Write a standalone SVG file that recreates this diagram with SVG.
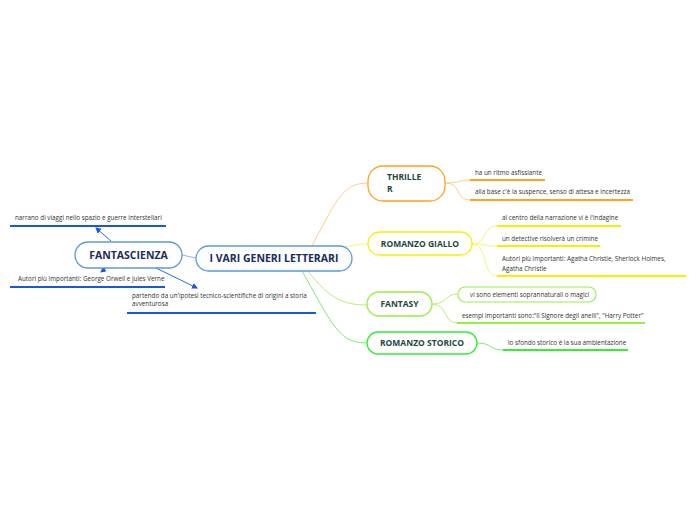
<svg xmlns="http://www.w3.org/2000/svg" width="696" height="520" viewBox="0 0 696 520">
<defs>
<marker id="ah" markerWidth="6" markerHeight="6" refX="5" refY="3" orient="auto" markerUnits="userSpaceOnUse"><path d="M0,0 L6,3 L0,6 Z" fill="#1a56e0"/></marker>
<style>
.t{font-family:"Open Sans","Liberation Sans",sans-serif;font-size:6.3px;fill:#333}
.n{font-family:"Open Sans","Liberation Sans",sans-serif;font-weight:bold;font-size:8.5px;fill:#1d4a3c}
.b{font-family:"Open Sans","Liberation Sans",sans-serif;font-weight:bold;font-size:10.5px;fill:#1b2d55}
.c{fill:none;stroke-width:1}
.ul{stroke-width:1.8}
</style>
</defs>
<rect width="696" height="520" fill="#ffffff"/>
<g id="connectors">
<line x1="182" y1="255" x2="196" y2="258" stroke="#8fb4e3" stroke-width="1"/>
<path class="c" d="M310,249 C335,205 340,183 368,183" stroke="#ffcc88"/>
<path class="c" d="M345,247 C355,245 360,244 368,244" stroke="#f5f57a"/>
<path class="c" d="M308,271 C330,300 345,305 368,305" stroke="#bbee77"/>
<path class="c" d="M302,271 C335,330 340,343 368,343" stroke="#77ee77"/>
<path class="c" d="M445,183 C460,183 458,180 470,180" stroke="#ffcc88"/>
<path class="c" d="M445,183 C462,183 455,200 470,200" stroke="#ffcc88"/>
<path class="c" d="M472,244 C488,244 482,226 497,226" stroke="#f5f57a"/>
<path class="c" d="M472,244 C488,244 482,246 497,246" stroke="#f5f57a"/>
<path class="c" d="M472,244 C488,244 482,276 497,276" stroke="#f5f57a"/>
<path class="c" d="M432,304 C448,304 444,294 458,294" stroke="#bbee77"/>
<path class="c" d="M432,304 C448,304 443,323 457,323" stroke="#bbee77"/>
<path class="c" d="M477,343 C492,343 490,350 503,350" stroke="#77ee77"/>
<line x1="111" y1="241" x2="96" y2="228" stroke="#1a56e0" stroke-width="0.9" marker-end="url(#ah)"/>
<line x1="106" y1="268" x2="101" y2="272" stroke="#1a56e0" stroke-width="0.9" marker-end="url(#ah)"/>
<line x1="156" y1="268" x2="197" y2="288" stroke="#1a56e0" stroke-width="0.9" marker-end="url(#ah)"/>
</g>
<g id="central">
<rect x="196" y="246" width="156" height="25" rx="12.5" fill="#fbfdff" stroke="#5b9bd5" stroke-width="1.3"/>
<text class="b" x="274" y="262" text-anchor="middle">I VARI GENERI LETTERARI</text>
</g>
<g id="fantascienza">
<rect x="75" y="242" width="107" height="26" rx="13" fill="#ffffff" stroke="#5b9bd5" stroke-width="1.3"/>
<text class="b" x="128.5" y="258.5" text-anchor="middle">FANTASCIENZA</text>
</g>
<g id="fs1">
<text class="t" x="15" y="220">narrano di viaggi nello spazio e guerre interstellari</text>
<line class="ul" x1="10" y1="226" x2="166" y2="226" stroke="#1a56e0"/>
</g>
<g id="fs2">
<text class="t" x="18" y="281">Autori più importanti: George Orwell e Jules Verne</text>
<line class="ul" x1="10" y1="287" x2="165" y2="287" stroke="#1a56e0"/>
</g>
<g id="fs3">
<text class="t" x="132" y="298">partendo da un'ipotesi tecnico-scientifiche di origini a storia</text>
<text class="t" x="132" y="306">avventurosa</text>
<line class="ul" x1="127" y1="313" x2="316" y2="313" stroke="#1a56e0"/>
</g>
<g id="thriller">
<rect x="368" y="166" width="77" height="35" rx="15" fill="#ffffff" stroke="#ffa31a" stroke-width="1.3"/>
<text class="n" x="387" y="180">THRILLE</text>
<text class="n" x="387" y="192">R</text>
</g>
<g id="th1">
<text class="t" x="475" y="175">ha un ritmo asfissiante</text>
<line class="ul" x1="470" y1="180" x2="545" y2="180" stroke="#ffa31a"/>
</g>
<g id="th2">
<text class="t" x="475" y="194">alla base c'è la suspence, senso di attesa e incertezza</text>
<line class="ul" x1="470" y1="200" x2="633" y2="200" stroke="#ffa31a"/>
</g>
<g id="giallo">
<rect x="368" y="232" width="104" height="23" rx="11.5" fill="#ffffff" stroke="#f2f200" stroke-width="1.3"/>
<text class="n" x="420" y="247" text-anchor="middle">ROMANZO GIALLO</text>
</g>
<g id="gi1">
<text class="t" x="502" y="220">al centro della narrazione vi è l'indagine</text>
<line class="ul" x1="497" y1="226" x2="621" y2="226" stroke="#f2f200"/>
</g>
<g id="gi2">
<text class="t" x="502" y="241">un detective risolverà un crimine</text>
<line class="ul" x1="497" y1="246" x2="600" y2="246" stroke="#f2f200"/>
</g>
<g id="gi3">
<text class="t" x="502" y="261">Autori più importanti: Agatha Christie, Sherlock Holmes,</text>
<text class="t" x="502" y="271">Agatha Christie</text>
<line class="ul" x1="497" y1="276" x2="686" y2="276" stroke="#f2f200"/>
</g>
<g id="fantasy">
<rect x="367" y="292" width="65" height="24" rx="12" fill="#ffffff" stroke="#99ee44" stroke-width="1.3"/>
<text class="n" x="399.5" y="307" text-anchor="middle">FANTASY</text>
</g>
<g id="fa1">
<rect x="458" y="287" width="138" height="15" rx="7" fill="#ffffff" stroke="#99ee44" stroke-width="1.1"/>
<text class="t" x="470" y="297">vi sono elementi soprannaturali o magici</text>
</g>
<g id="fa2">
<text class="t" x="462" y="318">esempi importanti sono:"Il Signore degli anelli", "Harry Potter"</text>
<line class="ul" x1="457" y1="323" x2="645" y2="323" stroke="#99ee44"/>
</g>
<g id="storico">
<rect x="367" y="332" width="110" height="22" rx="11" fill="#ffffff" stroke="#33ee33" stroke-width="1.3"/>
<text class="n" x="422" y="346" text-anchor="middle">ROMANZO STORICO</text>
</g>
<g id="st1">
<text class="t" x="508" y="345">lo sfondo storico è la sua ambientazione</text>
<line class="ul" x1="503" y1="350" x2="628" y2="350" stroke="#33ee33"/>
</g>
</svg>
